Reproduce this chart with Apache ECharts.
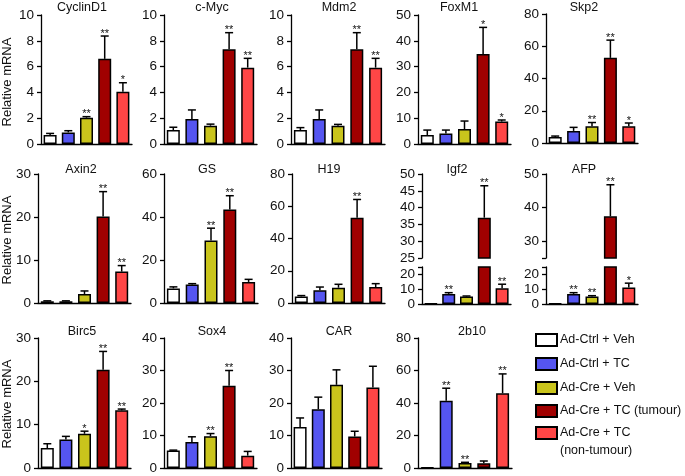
<!DOCTYPE html>
<html><head><meta charset="utf-8">
<script src="https://cdn.jsdelivr.net/npm/echarts@6/dist/echarts.min.js"></script>
<style>html,body{margin:0;padding:0;background:#fff}#c{width:685px;height:476px}</style>
</head><body><div id="c"></div>
<script>
// ---------------- data ----------------
const groups = ['Ad-Ctrl + Veh', 'Ad-Ctrl + TC', 'Ad-Cre + Veh', 'Ad-Cre + TC (tumour)', 'Ad-Cre + TC\n(non-tumour)'];

const cyclinD1Mean = [0.70, 0.90, 2.04, 6.60, 4.06];
const cyclinD1Err  = [0.12, 0.13, 0.08, 1.77, 0.69];
const cyclinD1Sig  = ['', '', '**', '**', '*'];

const cMycMean = [1.08, 1.94, 1.42, 7.34, 5.92];
const cMycErr  = [0.22, 0.70, 0.12, 1.29, 0.72];
const cMycSig  = ['', '', '', '**', '**'];

const mdm2Mean = [1.08, 1.94, 1.42, 7.34, 5.92];
const mdm2Err  = [0.19, 0.70, 0.10, 1.29, 0.72];
const mdm2Sig  = ['', '', '', '**', '**'];

const foxM1Mean = [3.5, 4.1, 5.8, 34.9, 8.7];
const foxM1Err  = [1.9, 1.3, 3.1, 10.3, 0.6];
const foxM1Sig  = ['', '', '', '*', '*'];

const skp2Mean = [3.7, 7.5, 10.4, 52.8, 10.4];
const skp2Err  = [0.6, 2.2, 2.3, 11.0, 2.0];
const skp2Sig  = ['', '', '**', '**', '*'];

const axin2Mean = [0.4, 0.4, 2.1, 20.1, 7.3];
const axin2Err  = [0.1, 0.1, 0.7, 5.8, 1.4];
const axin2Sig  = ['', '', '', '**', '**'];

const gsMean = [6.8, 8.6, 29.1, 43.5, 9.8];
const gsErr  = [0.7, 0.4, 5.7, 6.4, 1.2];
const gsSig  = ['', '', '**', '**', ''];

const h19Mean = [4.1, 7.9, 9.5, 52.8, 9.9];
const h19Err  = [0.5, 2.0, 2.1, 11.4, 2.1];
const h19Sig  = ['', '', '', '**', ''];

const igf2Mean = [0.3, 6.7, 4.9, 37.0, 10.4];
const igf2Err  = [0, 0.8, 0.4, 9.5, 2.7];
const igf2Sig  = ['', '**', '', '**', '**'];

const afpMean = [0.3, 6.7, 4.9, 37.4, 10.9];
const afpErr  = [0, 0.8, 0.6, 9.4, 2.9];
const afpSig  = ['', '**', '**', '**', '*'];

const birc5Mean = [4.6, 6.6, 7.9, 22.7, 13.3];
const birc5Err  = [1.0, 0.7, 0.6, 4.2, 0.3];
const birc5Sig  = ['', '', '*', '**', '**'];

const sox4Mean = [5.4, 8.0, 9.8, 25.3, 3.8];
const sox4Err  = [0.1, 1.6, 0.8, 4.7, 1.3];
const sox4Sig  = ['', '', '**', '**', ''];

const carMean = [12.6, 18.1, 25.6, 9.7, 24.8];
const carErr  = [2.8, 3.7, 4.6, 1.6, 6.5];
const carSig  = ['', '', '', '', ''];

const b10Mean = [0.3, 41.4, 3.1, 2.9, 46.0];
const b10Err  = [0, 7.7, 0.4, 1.4, 11.9];
const b10Sig  = ['', '**', '**', '', '**'];

// broken-axis tick values
const igf2UpperTicks = [25, 30, 35, 40, 45, 50];
const igf2UpperLabels = [25, 30, 35, 40, 45, 50];
const afpUpperTicks = [25, 30, 40, 50];
const afpUpperLabels = [30, 40, 50];
const lowerTicks = [0, 10, 20, 24.5];
const lowerLabels = [0, 10, 20];

// ---------------- styling / layout ----------------
const groupColors = ['#ffffff', '#5555f0', '#c9c41c', '#a00000', '#ff4646'];
const FONT = '"Liberation Sans", Arial, sans-serif';

const panels = [
  {name: 'CyclinD1', mean: cyclinD1Mean, err: cyclinD1Err, sig: cyclinD1Sig, max: 10, interval: 2, box: [41, 15, 91, 129], tx: 82, ty: 8},
  {name: 'c-Myc', mean: cMycMean, err: cMycErr, sig: cMycSig, max: 10, interval: 2, box: [164, 15, 93, 129], tx: 212, ty: 8},
  {name: 'Mdm2', mean: mdm2Mean, err: mdm2Err, sig: mdm2Sig, max: 10, interval: 2, box: [291, 15, 94, 129], tx: 339, ty: 8},
  {name: 'FoxM1', mean: foxM1Mean, err: foxM1Err, sig: foxM1Sig, max: 50, interval: 10, box: [418, 15, 93, 129], tx: 459, ty: 8},
  {name: 'Skp2', mean: skp2Mean, err: skp2Err, sig: skp2Sig, max: 80, interval: 20, box: [546, 14, 92, 129], tx: 584, ty: 8},

  {name: 'Axin2', mean: axin2Mean, err: axin2Err, sig: axin2Sig, max: 30, interval: 10, box: [38, 174, 93, 129], tx: 81, ty: 170},
  {name: 'GS', mean: gsMean, err: gsErr, sig: gsSig, max: 60, interval: 20, box: [164, 174, 94, 129], tx: 207, ty: 170},
  {name: 'H19', mean: h19Mean, err: h19Err, sig: h19Sig, max: 80, interval: 20, box: [292, 174, 93, 129], tx: 329, ty: 170},
  {name: 'Igf2', mean: igf2Mean, err: igf2Err, sig: igf2Sig, box: [422, 174, 89, 130], tx: 457, ty: 170,
   broken: {upper: [25, 50], upperH: 84, upperTicks: igf2UpperTicks, upperLabels: igf2UpperLabels, lowerMax: 24.5, lowerH: 37}},
  {name: 'AFP', mean: afpMean, err: afpErr, sig: afpSig, box: [546, 174, 92, 130], tx: 584, ty: 170,
   broken: {upper: [25, 50], upperH: 84, upperTicks: afpUpperTicks, upperLabels: afpUpperLabels, lowerMax: 24.5, lowerH: 37}},

  {name: 'Birc5', mean: birc5Mean, err: birc5Err, sig: birc5Sig, max: 30, interval: 10, box: [38, 338, 93, 130], tx: 82, ty: 332},
  {name: 'Sox4', mean: sox4Mean, err: sox4Err, sig: sox4Sig, max: 40, interval: 10, box: [164, 338, 93, 130], tx: 212, ty: 332},
  {name: 'CAR', mean: carMean, err: carErr, sig: carSig, max: 40, interval: 10, box: [291, 338, 91, 130], tx: 339, ty: 332},
  {name: '2b10', mean: b10Mean, err: b10Err, sig: b10Sig, max: 80, interval: 20, box: [418, 338, 94, 130], tx: 472, ty: 332}
];

const grids = [], xAxes = [], yAxes = [], series = [], graphics = [];
const axisLineStyle = {color: '#000', width: 1.3};

panels.forEach(p => {
  let segs;
  if (p.broken) {
    const b = p.broken;
    segs = [
      {min: b.upper[0], max: b.upper[1], box: [p.box[0], p.box[1], p.box[2], b.upperH], ticks: b.upperTicks, labels: b.upperLabels, base: false},
      {min: 0, max: b.lowerMax, box: [p.box[0], p.box[1] + p.box[3] - b.lowerH, p.box[2], b.lowerH], ticks: lowerTicks, labels: lowerLabels, base: true}
    ];
  } else {
    segs = [{min: 0, max: p.max, interval: p.interval, box: p.box, base: true}];
  }
  segs.forEach(s => {
    grids.push({left: s.box[0], top: s.box[1], width: s.box[2], height: s.box[3], containLabel: false});
    const gi = grids.length - 1;
    xAxes.push({
      gridIndex: gi, type: 'category', data: groups,
      axisLine: {show: s.base, lineStyle: axisLineStyle},
      axisTick: {show: false}, axisLabel: {show: false}, splitLine: {show: false}
    });
    const y = {
      gridIndex: gi, type: 'value', min: s.min, max: s.max,
      axisLine: {show: true, lineStyle: axisLineStyle},
      axisTick: {show: true, length: 4, lineStyle: axisLineStyle},
      axisLabel: {color: '#111', fontSize: 13.5, margin: 7, fontFamily: FONT},
      splitLine: {show: false}
    };
    if (s.interval) {
      y.interval = s.interval;
    } else {
      y.axisTick.customValues = s.ticks;
      y.axisLabel.customValues = s.labels;
    }
    yAxes.push(y);

    series.push({
      type: 'bar', xAxisIndex: gi, yAxisIndex: gi, barWidth: 13,
      data: p.mean.map((v, i) => ({
        value: (v > s.min) ? v : '-',
        itemStyle: {color: groupColors[i], borderColor: '#000', borderWidth: 1.5}
      })),
      animation: false, z: 2
    });

    series.push({
      type: 'custom', xAxisIndex: gi, yAxisIndex: gi, animation: false, z: 3,
      data: p.mean.map((v, i) => [i, v, p.err[i]]),
      renderItem: (params, api) => {
        const i = params.dataIndex;
        const m = api.value(1), e = api.value(2);
        const topVal = m + e;
        if (m <= s.min || topVal > s.max) return null;
        const p0 = api.coord([i, m]);
        const p1 = api.coord([i, topVal]);
        const children = [];
        if (e > 0) {
          children.push({type: 'line', shape: {x1: p0[0], y1: p0[1], x2: p1[0], y2: p1[1]}, style: {stroke: '#000', lineWidth: 1.5}});
          children.push({type: 'line', shape: {x1: p1[0] - 4, y1: p1[1], x2: p1[0] + 4, y2: p1[1]}, style: {stroke: '#000', lineWidth: 1.5}});
        }
        const sg = p.sig[i];
        if (sg) {
          children.push({type: 'text', style: {text: sg, x: p1[0], y: p1[1] + 3, align: 'center', verticalAlign: 'bottom', font: '11px ' + FONT, fill: '#111'}});
        }
        return {type: 'group', children};
      }
    });
  });

  graphics.push({type: 'text', x: p.tx, y: p.ty, style: {text: p.name, font: '12.5px ' + FONT, fill: '#111', align: 'center', verticalAlign: 'middle'}});
});

// y-axis names
[82, 240, 404].forEach(cy => {
  graphics.push({type: 'text', x: 7.5, y: cy, rotation: Math.PI / 2,
    style: {text: 'Relative mRNA', font: '13px ' + FONT, fill: '#111', align: 'center', verticalAlign: 'middle'}});
});

// legend
const legendY = [340, 364, 388, 411, 433];
groups.forEach((g, i) => {
  graphics.push({type: 'rect', shape: {x: 536, y: legendY[i] - 6, width: 21, height: 12}, style: {fill: groupColors[i], stroke: '#000', lineWidth: 2}});
  graphics.push({type: 'text', x: 560, y: legendY[i] - 9, style: {text: g, font: '12.5px ' + FONT, fill: '#111', align: 'left', verticalAlign: 'top', lineHeight: 18}});
});

const chart = echarts.init(document.getElementById('c'));
chart.setOption({
  animation: false,
  backgroundColor: '#fff',
  grid: grids, xAxis: xAxes, yAxis: yAxes, series: series,
  graphic: graphics
});
</script>
</body></html>
